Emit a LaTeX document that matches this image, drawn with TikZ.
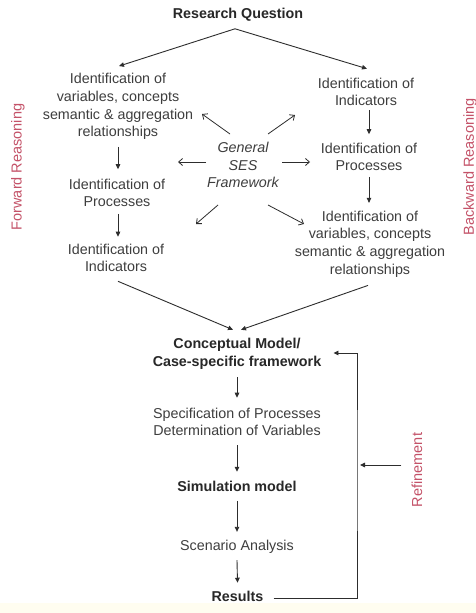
\documentclass[tikz,border=0pt]{standalone}
\usepackage{fontspec}
\setmainfont{Liberation Sans}
\usetikzlibrary{arrows.meta}
\definecolor{txtgray}{RGB}{62,62,62}
\definecolor{boldgray}{RGB}{40,40,40}
\definecolor{linegray}{RGB}{45,45,45}
\definecolor{reasonred}{RGB}{196,82,104}
\definecolor{cream}{RGB}{255,253,240}
\tikzset{
  txt/.style={font=\fontsize{14.3}{17.7}\selectfont, text=txtgray, align=center, inner sep=0pt},
  boldtxt/.style={txt, font=\fontsize{14.3}{17.7}\selectfont\bfseries, text=boldgray},
  sidelabel/.style={font=\fontsize{14.5}{17}\selectfont, text=reasonred, rotate=90, inner sep=0pt},
  arr/.style={draw=linegray, line width=0.9pt, -{Triangle[length=5pt,width=4.5pt]}},
  garr/.style={draw=linegray, line width=0.8pt, -{Straight Barb[length=4pt,width=7pt]}},
}
\begin{document}
\begin{tikzpicture}[x=1pt,y=-1pt]
\useasboundingbox (0,0) rectangle (476,613);
\fill[white] (0,0) rectangle (476,613);
\fill[cream] (0,603) rectangle (476,613);

% nodes
\node[boldtxt] (RQ) at (238,15) {Research Question};
\node[txt] (L1) at (118,106.5) {Identification of\\variables, concepts\\semantic \& aggregation\\relationships};
\node[txt] (R1) at (366,92) {Identification of\\Indicators};
\node[txt] (R2) at (369,157) {Identification of\\Processes};
\node[txt] (R3) at (370,244) {Identification of\\variables, concepts\\semantic \& aggregation\\relationships};
\node[txt, font=\fontsize{14.3}{17.7}\selectfont\itshape] (G) at (243,165) {General\\SES\\Framework};
\node[txt] (L2) at (117,193) {Identification of\\Processes};
\node[txt] (L3) at (116,258) {Identification of\\Indicators};
\node[boldtxt] (CM) at (237,354) {Conceptual Model/\\Case-specific framework};
\node[txt] (SP) at (237,422) {Specification of Processes\\Determination of Variables};
\node[boldtxt] (SIM) at (237,486) {Simulation model};
\node[txt] (SA) at (237,547) {Scenario Analysis};
\node[boldtxt] (RES) at (237.5,596.5) {Results};

\node[sidelabel] (FR) at (18,167) {Forward Reasoning};
\node[sidelabel] (BR) at (470,167) {Backward Reasoning};
\node[sidelabel] (REF) at (417,470) {Refinement};
\coordinate (RF) at (357,465);

% top arrows
\draw[arr] ([xshift=-3pt,yshift=-7pt]RQ.south) -- ([xshift=1pt,yshift=7pt]L1.north);
\draw[arr] ([xshift=-3pt,yshift=-7pt]RQ.south) -- ([xshift=1pt,yshift=9pt]R1.north);

% right column
\draw[arr] ([xshift=3pt,yshift=-4pt]R1.south) -- ([yshift=8.5pt]R2.north);
\draw[arr] ([yshift=-5.5pt]R2.south) -- ([xshift=-1pt,yshift=7.7pt]R3.north);

% left column
\draw[arr] ([yshift=-7pt]L1.south) -- ([xshift=1pt,yshift=9.5pt]L2.north);
\draw[arr] ([xshift=1pt,yshift=-6.5pt]L2.south) -- ([xshift=2pt,yshift=7pt]L3.north);

% general framework arrows
\draw[garr] ([shift={(-13pt,31pt)}]G.center) -- ([shift={(-41pt,51pt)}]G.center);
\draw[garr] ([shift={(25pt,31pt)}]G.center) -- ([shift={(52pt,50pt)}]G.center);
\draw[garr] ([shift={(-37pt,3pt)}]G.center) -- ([shift={(-65pt,3pt)}]G.center);
\draw[garr] ([shift={(39pt,3pt)}]G.center) -- ([shift={(67pt,3pt)}]G.center);
\draw[garr] ([shift={(-25pt,-40pt)}]G.center) -- ([shift={(-47pt,-59pt)}]G.center);
\draw[garr] ([shift={(25pt,-40pt)}]G.center) -- ([shift={(61pt,-59pt)}]G.center);

% converging arrows
\draw[arr] ([xshift=2pt,yshift=-9pt]L3.south) -- ([xshift=-4pt,yshift=8.5pt]CM.north);
\draw[arr] ([xshift=-2pt,yshift=-8pt]R3.south) -- ([xshift=4pt,yshift=8.5pt]CM.north);

% main column
\draw[arr] ([yshift=-7.5pt]CM.south) -- ([yshift=10pt]SP.north);
\draw[arr] ([yshift=-9pt]SP.south) -- ([yshift=8.8pt]SIM.north);
\draw[arr] ([yshift=-9.3pt]SIM.south) -- ([yshift=8.3pt]SA.north);
\draw[arr] ([yshift=-6.3pt]SA.south) -- ([yshift=8.3pt]RES.north);

% refinement loop
\draw[arr] ([xshift=10pt,yshift=-1.5pt]RES.east) -| (RF) |- ([xshift=12pt,yshift=1pt]CM.east);
\draw[arr] ([xshift=-10pt]REF.north |- RF) -- ([xshift=3pt]RF);
\end{tikzpicture}
\end{document}
